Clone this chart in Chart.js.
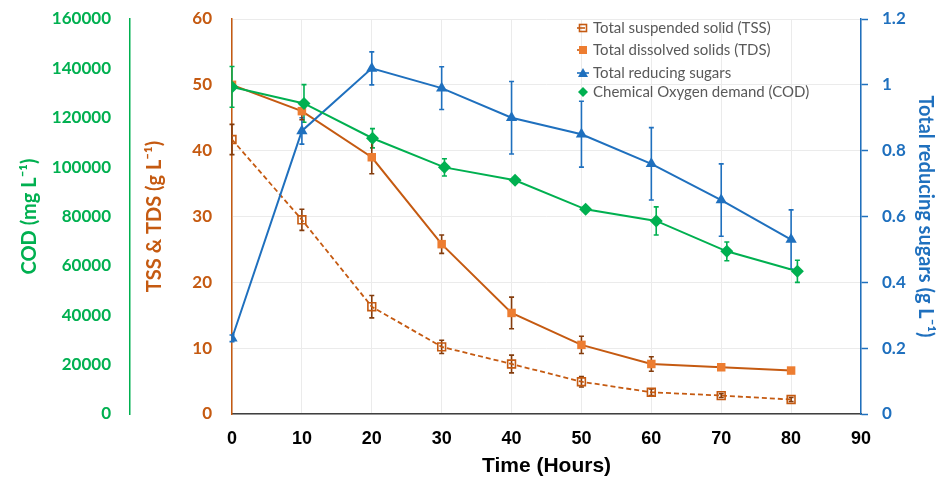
<!DOCTYPE html>
<html>
<head>
<meta charset="utf-8">
<script src="https://cdn.jsdelivr.net/npm/chart.js@4.4.1/dist/chart.umd.min.js"></script>
<style>
  html, body { margin: 0; padding: 0; background: #fff; }
</style>
</head>
<body>
<canvas id="chart" width="941" height="481"></canvas>
<script>
// sampling times (hours)
var hours = [0, 10, 20, 30, 40, 50, 60, 70, 80];
var codHours = [0, 10.3, 20.1, 30.4, 40.5, 50.6, 60.7, 70.8, 80.9];

// TSS & TDS (g/L)
var tss = [41.7, 29.5, 16.3, 10.2, 7.6, 4.9, 3.3, 2.8, 2.2];
var tssErr = [2.3, 1.6, 1.7, 1.0, 1.35, 0.8, 0.5, 0.3, 0.3];
var tds = [50.0, 46.0, 39.0, 25.8, 15.35, 10.5, 7.6, 7.1, 6.6];
var tdsErr = [0, 1.3, 2.5, 1.4, 2.4, 1.3, 1.1, 0, 0];

// total reducing sugars (g/L)
var sugars = [0.23, 0.86, 1.05, 0.99, 0.90, 0.85, 0.76, 0.65, 0.53];
var sugarsErr = [0.01, 0.04, 0.05, 0.065, 0.11, 0.10, 0.11, 0.11, 0.09];

// COD (mg/L)
var cod = [132500, 125800, 111700, 99900, 94700, 82900, 78200, 65900, 57800];
var codErr = [8250, 7600, 3900, 3500, 800, 800, 5700, 3800, 4500];

var legendLabels = ["Total suspended solid (TSS)", "Total dissolved solids (TDS)",
                    "Total reducing sugars", "Chemical Oxygen demand (COD)"];

var BROWN = "#C55A11", ORANGE = "#ED7D31", DARK = "#843C0C";
var BLUE = "#1F70BE", GREEN = "#00B050";

function pts(xs, ys) {
  return xs.map(function(x, i) { return {x: x, y: ys[i]}; });
}

// fix an axis box size and drop the label overhang padding
function fixSize(w, h) {
  return function(s) {
    if (w) s.width = w;
    if (h) s.height = h;
    s.paddingTop = 0; s.paddingBottom = 0; s.paddingLeft = 0; s.paddingRight = 0;
  };
}

// draws vertical error bars under the markers
var errorBars = {
  id: "errorBars",
  beforeDatasetsDraw: function(chart) {
    var ctx = chart.ctx;
    chart.data.datasets.forEach(function(ds, i) {
      if (!ds.err) return;
      var meta = chart.getDatasetMeta(i);
      var ys = chart.scales[ds.yAxisID];
      ctx.save();
      ctx.strokeStyle = ds.errColor;
      ctx.lineWidth = 1.6;
      meta.data.forEach(function(el, j) {
        var e = ds.err[j];
        if (!e) return;
        var v = ds.data[j].y;
        var top = ys.getPixelForValue(v + e), bot = ys.getPixelForValue(v - e);
        ctx.beginPath();
        ctx.moveTo(el.x, top); ctx.lineTo(el.x, bot);
        ctx.moveTo(el.x - 2.5, top); ctx.lineTo(el.x + 2.5, top);
        ctx.moveTo(el.x - 2.5, bot); ctx.lineTo(el.x + 2.5, bot);
        ctx.stroke();
      });
      ctx.restore();
    });
  }
};

// legend drawn inside the plot area, top right
var innerLegend = {
  id: "innerLegend",
  afterDraw: function(chart) {
    var ctx = chart.ctx;
    var x0 = 583, rows = [28, 50, 73, 92];
    ctx.save();
    ctx.font = "15px Lato, 'Liberation Sans', sans-serif";
    ctx.fillStyle = "#595959";
    ctx.textBaseline = "middle";
    ctx.textAlign = "left";
    legendLabels.forEach(function(t, i) {
      ctx.fillText(t, x0 + 10, rows[i]);
    });
    // markers
    ctx.lineWidth = 1.6;
    ctx.strokeStyle = BROWN;
    ctx.beginPath(); ctx.moveTo(x0 - 6, rows[0]); ctx.lineTo(x0 + 2, rows[0]); ctx.stroke();
    ctx.strokeRect(x0 - 3.5, rows[0] - 3.5, 7, 7);
    ctx.beginPath(); ctx.moveTo(x0 - 6, rows[1]); ctx.lineTo(x0 + 2, rows[1]); ctx.stroke();
    ctx.fillStyle = ORANGE;
    ctx.fillRect(x0 - 4, rows[1] - 4, 8, 8);
    ctx.strokeStyle = BLUE;
    ctx.beginPath(); ctx.moveTo(x0 - 6, rows[2]); ctx.lineTo(x0 + 6, rows[2]); ctx.stroke();
    ctx.fillStyle = BLUE;
    ctx.beginPath(); ctx.moveTo(x0, rows[2] - 5); ctx.lineTo(x0 + 5, rows[2] + 4); ctx.lineTo(x0 - 5, rows[2] + 4); ctx.closePath(); ctx.fill();
    ctx.fillStyle = GREEN;
    ctx.beginPath(); ctx.moveTo(x0, rows[3] - 5); ctx.lineTo(x0 + 5, rows[3]); ctx.lineTo(x0, rows[3] + 5); ctx.lineTo(x0 - 5, rows[3]); ctx.closePath(); ctx.fill();
    ctx.restore();
  }
};

var tickFont = {family: "Lato, 'Liberation Sans', sans-serif", size: 17, weight: "bold"};
var titleFont = {family: "Lato, 'Liberation Sans', sans-serif", size: 20, weight: "bold"};
var narrowFont = {family: "'Liberation Sans Narrow', 'Arial Narrow', 'Liberation Sans', sans-serif", size: 18, weight: "bold"};

new Chart(document.getElementById("chart"), {
  type: "line",
  data: {
    datasets: [{
      label: legendLabels[3],
      data: pts(codHours, cod),
      err: codErr, errColor: GREEN,
      yAxisID: "cod",
      borderColor: GREEN, backgroundColor: GREEN,
      borderWidth: 2, pointStyle: "rectRot", pointRadius: 6.5,
      pointBorderWidth: 0, order: 0
    }, {
      label: legendLabels[2],
      data: pts(hours, sugars),
      err: sugarsErr, errColor: BLUE,
      yAxisID: "y2",
      borderColor: BLUE, backgroundColor: BLUE,
      borderWidth: 2, pointStyle: "triangle", pointRadius: 6.5,
      pointBorderWidth: 0, order: 1
    }, {
      label: legendLabels[1],
      data: pts(hours, tds),
      err: tdsErr, errColor: DARK,
      yAxisID: "y",
      borderColor: BROWN, backgroundColor: ORANGE,
      borderWidth: 2, pointStyle: "rect", pointRadius: 6,
      pointBorderWidth: 0, order: 2
    }, {
      label: legendLabels[0],
      data: pts(hours, tss),
      err: tssErr, errColor: DARK,
      yAxisID: "y",
      borderColor: BROWN, backgroundColor: "rgba(255,255,255,0)",
      borderWidth: 1.8, borderDash: [5, 3], pointStyle: "rect", pointRadius: 5.5,
      pointBorderWidth: 1.6, order: 3
    }]
  },
  options: {
    responsive: false,
    animation: false,
    layout: {padding: {left: 14, top: 19, right: 0, bottom: 0}},
    plugins: {legend: {display: false}, tooltip: {enabled: false}},
    scales: {
      x: {
        type: "linear", position: "bottom",
        min: 0, max: 90,
        ticks: {stepSize: 10, color: "#000", font: narrowFont, padding: 14},
        grid: {color: "#EBEBEB", drawTicks: false},
        border: {color: "#404040", width: 1.5},
        title: {display: true, text: "Time (Hours)", color: "#000",
                font: {family: narrowFont.family, size: 21, weight: "bold"}, padding: {top: 0, bottom: 2}},
        afterFit: fixSize(0, 67)
      },
      y: {
        position: "left", weight: 1,
        min: 0, max: 60,
        ticks: {stepSize: 10, color: BROWN, font: tickFont, padding: 20},
        grid: {color: "#EBEBEB", drawTicks: false},
        border: {color: BROWN, width: 1.5},
        title: {display: true, text: "TSS & TDS (g L\u207B\u00B9)", color: BROWN, font: titleFont, padding: {top: 13, bottom: 4}},
        afterFit: fixSize(102, 0)
      },
      cod: {
        position: "left", weight: 2,
        min: 0, max: 160000,
        ticks: {stepSize: 20000, color: GREEN, font: tickFont, padding: 19,
                callback: function(v) { return String(v); }},
        grid: {display: false, drawTicks: false},
        border: {color: GREEN, width: 1.5},
        title: {display: true, text: "COD (mg L\u207B\u00B9)", color: GREEN, font: titleFont, padding: {top: 4, bottom: 4}},
        afterFit: fixSize(116, 0)
      },
      y2: {
        position: "right",
        min: 0, max: 1.2,
        ticks: {stepSize: 0.2, color: BLUE, font: tickFont, padding: 14,
                callback: function(v) { return String(+v.toFixed(1)); }},
        grid: {drawOnChartArea: false, drawTicks: true, tickLength: 7, color: BLUE, tickWidth: 1.5},
        border: {color: BLUE, width: 1.5},
        title: {display: true, text: "Total reducing sugars (g L\u207B\u00B9)", color: BLUE, font: titleFont, padding: {top: 4, bottom: 4}},
        afterFit: fixSize(80, 0)
      }
    }
  },
  plugins: [errorBars, innerLegend]
});
</script>
</body>
</html>
